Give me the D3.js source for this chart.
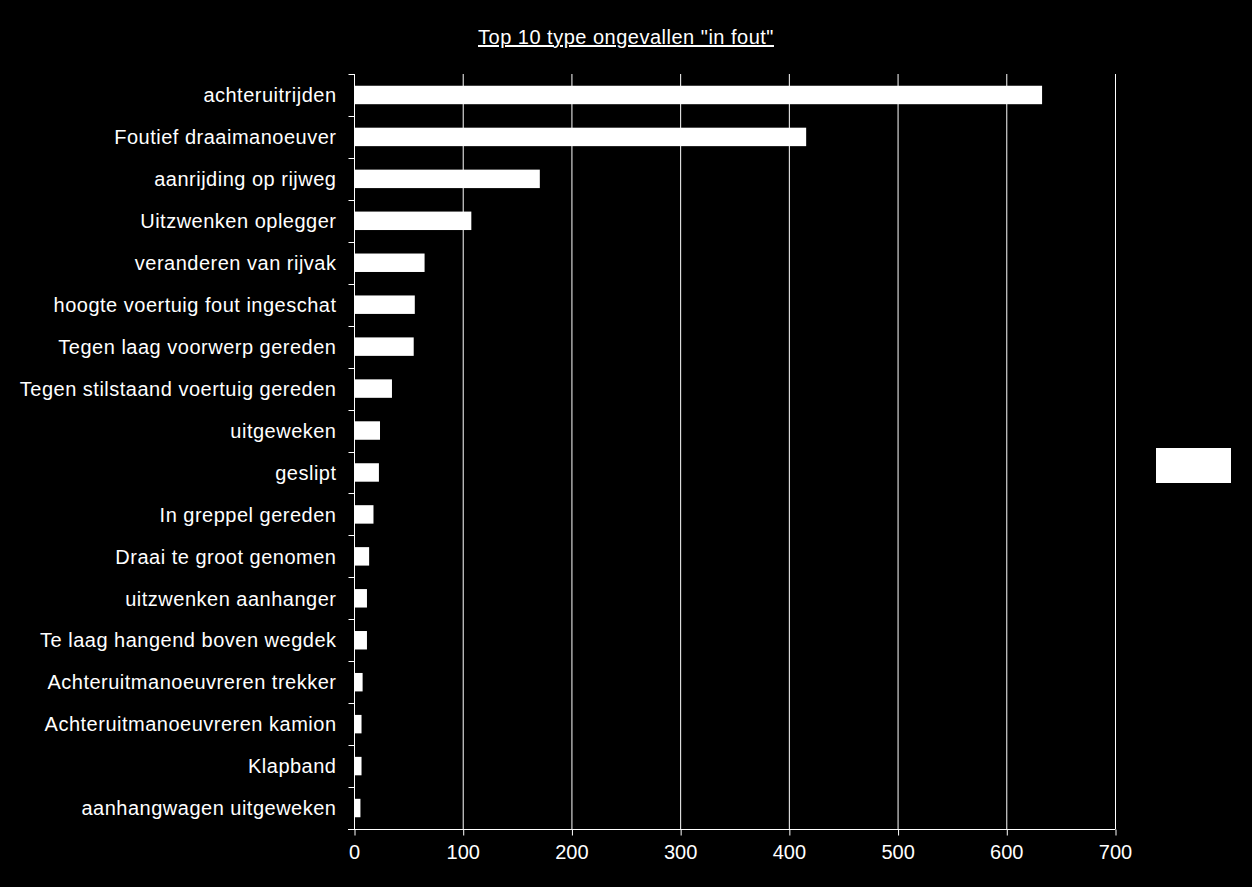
<!DOCTYPE html>
<html>
<head>
<meta charset="utf-8">
<script src="https://cdn.jsdelivr.net/npm/d3@7"></script>
<style>
  body { margin: 0; background: #000; }
  svg { display: block; }
  text { font-family: "Liberation Sans", Arial, sans-serif; fill: #fff; }
</style>
</head>
<body>
<svg></svg>
<script>
var categories = [
  "achteruitrijden",
  "Foutief draaimanoeuver",
  "aanrijding op rijweg",
  "Uitzwenken oplegger",
  "veranderen van rijvak",
  "hoogte voertuig fout ingeschat",
  "Tegen laag voorwerp gereden",
  "Tegen stilstaand voertuig gereden",
  "uitgeweken",
  "geslipt",
  "In greppel gereden",
  "Draai te groot genomen",
  "uitzwenken aanhanger",
  "Te laag hangend boven wegdek",
  "Achteruitmanoeuvreren trekker",
  "Achteruitmanoeuvreren kamion",
  "Klapband",
  "aanhangwagen uitgeweken"
];
var values = [632, 415, 170, 107, 64, 55, 54, 34, 23, 22, 17, 13, 11, 11, 7, 6, 6, 5];
var xTicks = [0, 100, 200, 300, 400, 500, 600, 700];
var title = 'Top 10 type ongevallen "in fout"';

var width = 1252, height = 887;
var margins = {top: 74, right: 137, bottom: 58, left: 354};

var svg = d3.select("svg")
  .attr("width", width)
  .attr("height", height);

var x = d3.scaleLinear()
  .domain([0, 700])
  .range([margins.left, width - margins.right]);

var y = d3.scaleBand()
  .domain(categories)
  .range([margins.top, height - margins.bottom])
  .paddingInner(0.56)
  .paddingOuter(0.28);

// gridlines
svg.append("g")
  .selectAll("line")
  .data(xTicks.slice(1))
  .enter()
  .append("line")
  .attr("x1", function(d){ return x(d) + 0.5; })
  .attr("x2", function(d){ return x(d) + 0.5; })
  .attr("y1", margins.top)
  .attr("y2", height - margins.bottom)
  .attr("stroke", "#fff")
  .attr("stroke-width", 1);

// bars
svg.append("g")
  .selectAll("rect")
  .data(values)
  .enter()
  .append("rect")
  .attr("x", x(0) + 1)
  .attr("y", function(d, i){ return y(categories[i]); })
  .attr("width", function(d){ return x(d) - x(0); })
  .attr("height", y.bandwidth())
  .attr("fill", "#fff");

// y axis
var yAxis = d3.axisLeft(y).tickSize(0).tickPadding(18);
var gy = svg.append("g")
  .attr("transform", "translate(" + (x(0) + 0.5) + ",0)")
  .call(yAxis);
gy.select(".domain").remove();
gy.append("line")
  .attr("x1", 0).attr("x2", 0)
  .attr("y1", margins.top).attr("y2", height - margins.bottom)
  .attr("stroke", "#fff");
gy.selectAll(".tick text")
  .attr("fill", "#fff")
  .attr("dy", "0.36em")
  .style("font-size", "20px")
  .style("letter-spacing", "0.5px");

// y category separator ticks
var sep = d3.range(categories.length + 1).map(function(i){ return margins.top + i * (height - margins.top - margins.bottom) / categories.length; });
gy.append("g")
  .selectAll("line")
  .data(sep)
  .enter()
  .append("line")
  .attr("x1", -6).attr("x2", 0)
  .attr("y1", function(d){ return Math.round(d) + 0.5; })
  .attr("y2", function(d){ return Math.round(d) + 0.5; })
  .attr("stroke", "#fff");

// x axis
var xAxis = d3.axisBottom(x).tickValues(xTicks).tickSize(6).tickPadding(9).tickSizeOuter(0);
var gx = svg.append("g")
  .attr("transform", "translate(0," + (height - margins.bottom + 0.5) + ")")
  .call(xAxis);
gx.select(".domain").attr("d", "M" + (x(0) - 6) + ",0H" + (x(700) + 0.5)).attr("stroke", "#fff");
gx.selectAll(".tick line").attr("stroke", "#fff").attr("transform", "translate(0.5,0)");
gx.selectAll(".tick text")
  .attr("fill", "#fff")
  .style("font-size", "20px");

// title
svg.append("text")
  .attr("x", 626)
  .attr("y", 44)
  .attr("text-anchor", "middle")
  .style("font-size", "20px")
  .style("letter-spacing", "0.5px")
  .style("text-decoration", "underline")
  .text(title);

// legend box
svg.append("rect")
  .attr("x", 1156)
  .attr("y", 448)
  .attr("width", 75)
  .attr("height", 35)
  .attr("fill", "#fff");
</script>
</body>
</html>
